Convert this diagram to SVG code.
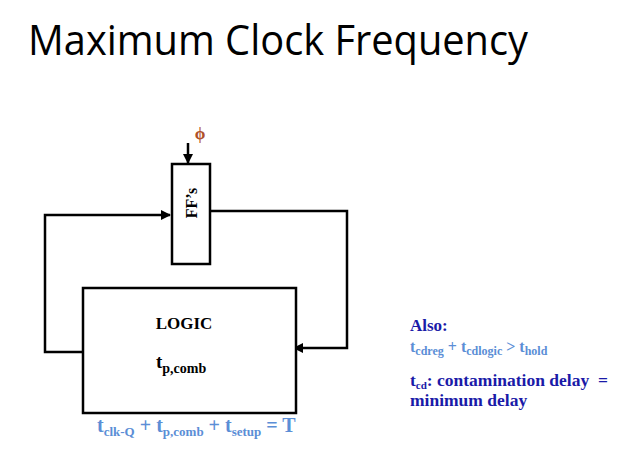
<svg xmlns="http://www.w3.org/2000/svg" width="632" height="461" viewBox="0 0 632 461">
  <style>
    .box { fill: #ffffff; stroke: #000000; stroke-width: 2.5; }
    .wire { fill: none; stroke: #000000; stroke-width: 2.5; }
    .title { font-family: "Open Sans", "Noto Sans", sans-serif; font-size: 42px; fill: #000000; }
    .serif { font-family: "Liberation Serif", "Times New Roman", serif; font-weight: bold; }
    .eq { fill: #5b8ed6; }
    .note { fill: #1a1aa8; }
  </style>
  <defs>
    <marker id="arrow" viewBox="0 0 10 10" refX="9" refY="5" markerWidth="4" markerHeight="4" orient="auto" markerUnits="strokeWidth">
      <path d="M0,0 L10,5 L0,10 Z" fill="#000000"/>
    </marker>
  </defs>

  <text class="title" x="28" y="55" textLength="500" lengthAdjust="spacingAndGlyphs">Maximum Clock Frequency</text>

  <g id="connectors">
    <!-- clock input -->
    <line class="wire" x1="188" y1="143" x2="188" y2="163" marker-end="url(#arrow)"/>
    <!-- logic output back to register input -->
    <polyline class="wire" points="83,352 45,352 45,215 170,215" marker-end="url(#arrow)"/>
    <!-- register output into logic -->
    <polyline class="wire" points="210,211 347,211 347,348 294,348" marker-end="url(#arrow)"/>
  </g>

  <g id="clock">
    <text class="serif" x="200" y="139" font-size="17" fill="#b05028" text-anchor="middle" font-weight="normal">ϕ</text>
  </g>

  <g id="ffs">
    <rect class="box" x="172" y="164" width="38" height="100"/>
    <text class="serif" font-size="16" text-anchor="middle" transform="translate(197,203) rotate(-90)">FF’s</text>
  </g>

  <g id="logic">
    <rect class="box" x="83" y="288" width="213" height="125"/>
    <text class="serif" x="184" y="329" font-size="17" text-anchor="middle">LOGIC</text>
    <text class="serif" x="156" y="368" font-size="19">t<tspan font-size="14" dy="5">p,comb</tspan></text>
  </g>

  <g id="period-equation">
    <text class="serif eq" x="97" y="432" font-size="20">t<tspan font-size="13" dy="4">clk-Q</tspan><tspan dy="-4"> + t</tspan><tspan font-size="13" dy="4">p,comb</tspan><tspan dy="-4"> + t</tspan><tspan font-size="13" dy="4">setup</tspan><tspan dy="-4"> = T</tspan></text>
  </g>

  <g id="hold-note">
    <text class="serif note" x="410" y="331" font-size="17">Also:</text>
    <text class="serif eq" x="410" y="352" font-size="16">t<tspan font-size="12" dy="3">cdreg</tspan><tspan dy="-3"> + t</tspan><tspan font-size="12" dy="3">cdlogic</tspan><tspan dy="-3"> &gt; t</tspan><tspan font-size="12" dy="3">hold</tspan></text>
    <text class="serif note" x="410" y="386" font-size="17.5" xml:space="preserve">t<tspan font-size="11" dy="3">cd</tspan><tspan dy="-3">: contamination delay  =</tspan></text>
    <text class="serif note" x="410" y="406" font-size="17.5">minimum delay</text>
  </g>
</svg>
